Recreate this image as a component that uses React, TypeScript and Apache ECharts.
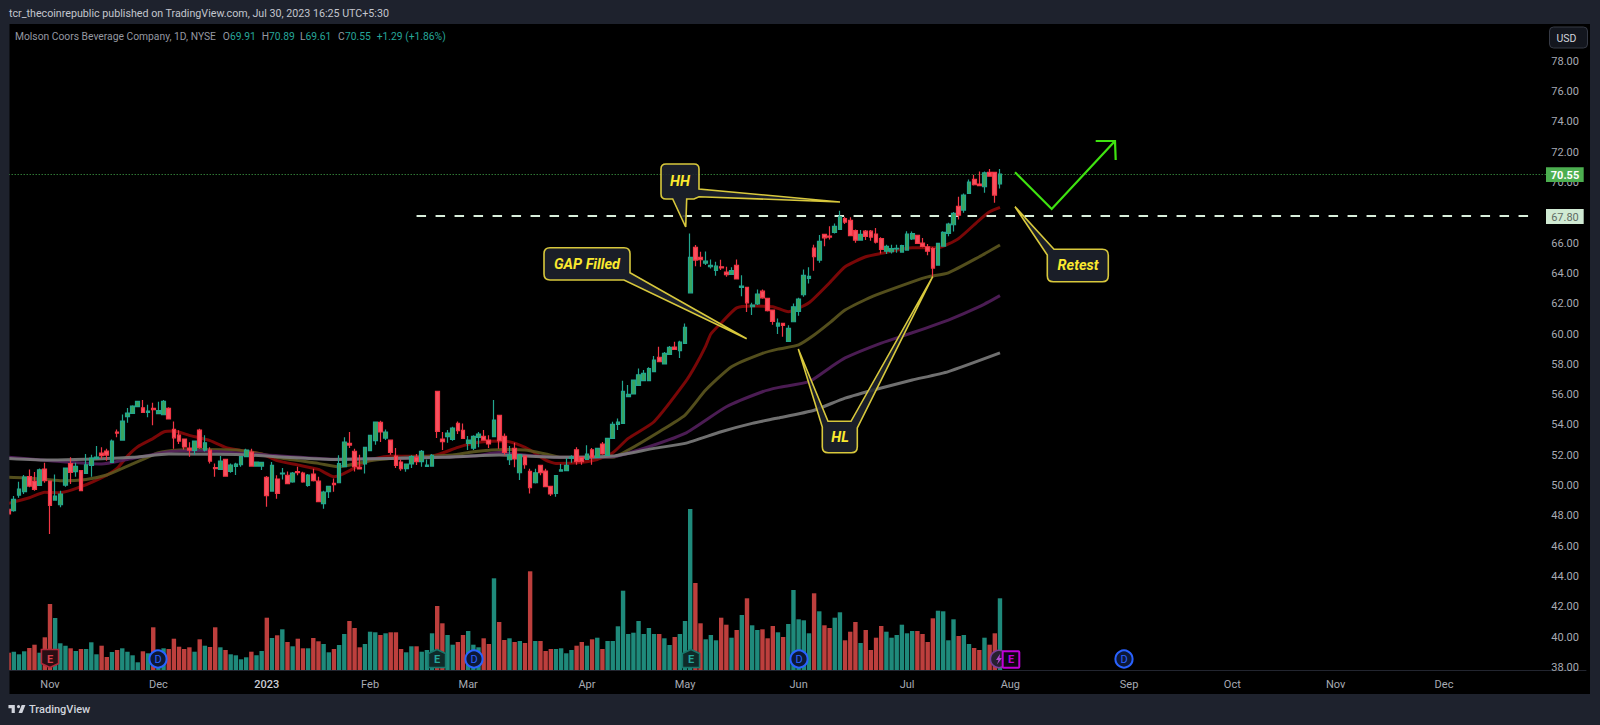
import React, { useEffect, useRef } from "react";
import * as echarts from "echarts";

const opens = [48.42,48.34,49.37,49.59,50.58,50.29,50.01,51.09,50.29,49.04,
48.73,50.03,51.44,50.91,50.98,50.80,51.33,51.79,52.14,52.27,
51.53,53.53,53.00,54.54,54.76,55.20,55.13,54.83,55.09,54.74,
54.67,55.09,53.70,53.33,53.07,52.47,52.32,53.66,52.34,52.34,
51.18,51.06,51.72,50.93,51.26,51.37,51.90,52.21,51.28,51.28,
50.54,49.63,50.43,50.76,50.67,50.23,50.91,50.82,50.01,50.76,
50.29,48.80,49.59,50.14,50.18,51.24,52.78,52.25,51.20,51.42,
52.30,52.96,54.17,53.13,53.00,51.94,51.55,51.11,51.42,51.86,
51.57,51.26,51.28,56.21,53.07,53.22,53.04,54.10,53.64,52.78,
52.47,53.18,53.24,53.00,53.22,54.63,53.24,51.70,52.45,50.84,
51.94,50.93,50.18,51.33,50.95,49.94,49.48,50.95,50.98,51.81,
52.36,51.86,51.72,52.36,51.86,52.74,51.99,53.11,54.03,54.10,
55.86,56.04,56.61,56.92,56.92,57.51,58.46,58.02,58.65,59.14,
58.90,59.38,62.72,65.72,65.06,64.68,64.44,64.20,64.44,64.09,
63.93,64.53,63.08,63.08,61.80,61.98,62.83,62.35,61.58,60.52,
60.70,59.51,60.81,61.49,62.59,63.67,65.67,64.88,66.57,66.46,
66.71,66.90,67.61,67.50,66.82,66.20,66.79,66.79,66.60,66.29,
65.47,65.43,65.61,65.41,65.54,66.27,66.51,66.00,65.76,65.63,
64.55,65.80,66.64,67.21,68.42,68.18,69.28,70.20,69.90,69.72,
70.67,70.67,69.91];

const closes = [48.12,49.08,49.77,50.56,49.96,49.74,51.04,50.32,48.69,49.30,
49.44,51.15,50.87,51.26,49.66,51.37,51.81,51.88,51.97,52.01,
52.93,53.46,54.25,54.78,55.24,55.55,54.83,54.91,55.00,54.94,
55.55,54.39,53.15,52.93,52.54,52.34,52.93,52.52,52.82,51.61,
51.11,51.61,50.62,51.35,51.42,51.90,52.34,51.28,51.55,51.53,
49.33,51.33,49.48,50.82,50.12,50.82,50.84,50.23,50.69,50.32,
48.93,49.57,49.94,50.05,51.44,52.87,52.67,51.24,51.09,52.52,
53.31,54.19,53.53,53.53,52.19,51.33,51.11,51.42,51.90,51.57,
52.25,51.35,51.99,53.57,52.89,53.46,53.79,53.62,53.11,53.00,
53.24,53.40,53.00,52.74,54.32,52.96,52.19,52.01,51.75,52.03,
51.37,49.85,50.84,50.84,49.92,49.44,50.65,51.04,51.33,51.88,
51.57,51.57,52.08,51.86,52.45,52.08,53.11,54.03,54.19,56.21,
56.01,56.96,57.31,57.40,57.71,58.28,58.17,58.72,59.12,58.98,
59.47,60.44,65.06,64.88,64.90,64.81,64.53,64.48,64.37,63.91,
64.18,63.63,63.16,62.06,61.91,62.64,62.39,61.54,60.83,60.72,
60.57,60.37,61.80,62.31,63.87,63.80,65.10,66.11,66.35,66.40,
67.10,67.74,67.39,66.49,66.20,66.57,66.44,66.40,66.07,65.58,
65.78,65.63,65.65,65.83,66.60,66.62,65.98,65.78,65.47,64.35,
65.98,66.71,67.26,67.96,67.85,69.17,70.03,69.85,69.79,70.64,
70.42,69.17,70.55];

const lows = [47.95,48.27,49.19,49.44,49.88,49.66,49.96,50.18,46.80,49.00,
48.56,49.92,50.10,50.58,49.66,50.76,50.58,51.72,51.79,51.64,
51.50,53.18,53.00,54.14,54.76,55.16,54.83,54.50,53.97,54.72,
54.67,54.36,52.43,52.74,52.38,51.90,52.03,52.43,52.25,51.46,
50.58,51.02,50.62,50.84,50.69,51.24,51.86,51.26,51.24,51.02,
48.60,49.59,49.13,50.40,50.10,50.18,50.67,50.18,49.92,50.27,
48.91,48.47,49.17,49.59,50.18,51.20,52.47,50.93,51.06,50.80,
52.30,52.69,52.87,53.00,52.03,51.15,50.98,50.91,51.15,51.35,
51.24,51.24,51.24,53.13,52.34,52.82,52.96,53.40,53.09,52.34,
52.34,52.52,52.96,52.47,53.22,52.43,52.03,51.35,51.20,50.36,
51.11,49.48,50.14,50.67,49.88,49.30,49.26,50.93,50.98,51.50,
51.37,51.37,51.72,51.37,51.86,52.03,51.94,53.09,53.66,54.10,
55.82,56.02,56.61,56.92,56.92,57.49,58.15,58.02,58.63,58.94,
58.41,59.38,62.72,64.48,64.44,64.55,64.33,63.85,64.22,63.78,
63.91,63.60,62.50,61.45,61.25,61.91,62.33,61.49,60.61,60.00,
59.82,59.47,60.77,61.21,62.46,63.34,64.18,64.70,65.80,66.24,
66.64,66.90,67.26,66.46,66.02,66.16,66.20,66.16,65.98,65.32,
65.28,65.32,65.36,65.36,65.54,66.20,65.94,65.72,65.19,63.69,
64.51,65.80,66.46,66.77,67.56,68.00,69.24,69.81,69.76,69.32,
70.40,68.66,69.61];

const highs = [48.50,49.30,50.25,50.69,51.06,50.89,51.13,51.50,50.29,50.73,
49.66,51.15,51.86,51.50,51.02,52.08,52.03,52.60,52.52,52.43,
53.04,53.70,54.69,55.11,55.29,55.60,55.64,55.33,55.46,55.53,
55.64,55.16,54.23,53.64,53.07,52.85,52.96,53.75,53.31,52.52,
51.46,51.94,51.72,51.46,51.50,51.94,52.43,52.43,51.59,51.57,
50.62,51.55,50.67,51.15,50.93,50.89,51.24,50.91,50.76,51.11,
50.58,49.66,49.96,50.47,51.99,53.18,53.53,52.43,52.03,52.52,
53.35,54.21,54.28,53.70,53.00,52.47,51.72,51.46,51.99,52.08,
52.34,51.72,52.08,56.21,53.53,53.66,53.88,54.23,54.10,53.26,
53.31,53.53,53.66,53.31,55.64,54.63,53.44,52.60,52.82,52.08,
51.94,51.11,51.11,51.33,51.11,49.94,50.69,51.42,51.81,51.99,
52.52,51.90,52.65,52.47,52.45,52.87,53.11,54.21,54.43,56.92,
56.63,57.00,57.73,57.62,57.80,58.54,59.16,58.81,59.20,59.49,
59.56,60.70,66.64,65.87,65.43,65.45,64.92,64.77,64.90,64.44,
64.40,64.92,63.87,63.08,62.06,62.94,62.94,62.35,61.58,61.03,
60.74,60.57,62.02,62.39,64.26,64.40,65.89,66.53,66.57,67.12,
67.30,68.14,67.74,67.70,66.90,66.86,66.86,66.86,66.99,66.38,
65.89,65.89,65.89,65.89,66.79,66.77,66.53,66.33,65.94,65.72,
65.98,66.79,67.34,68.05,69.06,69.28,70.20,70.51,70.73,70.73,
70.89,70.71,70.89];

const volumes = [17.3,18.3,15.7,18.7,22,25.3,17.3,32.7,66,52,
26.7,24.3,21.7,19,21,21,27.7,15.7,24.3,13,
18,20,21.7,18.3,14.7,7.7,18.7,16.7,42.7,20,
21.7,21,31.3,23.3,21,22.7,18.3,30.7,24.3,23,
42.7,22.7,20,15.7,14.7,10.7,12.7,18.3,14.7,19,
52.3,32,34.7,40.7,28,23.7,31.3,21.7,21.7,32,
28.7,26,17.7,21,25,36,49,42,22.7,26,
38.3,37.7,35,36.7,37.7,37.7,21,17.7,23.7,23.7,
18.3,20,36.7,64,46.7,35,25.3,28,35,39,
25.3,22.7,31.7,26,91.7,48,30,31.7,28,29,
27,98.7,29,29,19,21,21,21.7,16.7,20,
24.3,28,24.3,30.7,32.3,21,29,29,43.7,79.3,
36,37.3,49,36,42,36,36,31.7,25,33,
36,49,161,87,46.7,30.7,35,29.7,52.3,45.3,
32.3,40,55,71.7,44.7,40,40.7,31.7,44,37.7,
33,46,80,50.7,49.7,36.7,76.7,58.7,44.7,42,
52.3,57.7,29.7,38.3,48,27,40,20,32.3,44,
38.3,32.3,35,45.3,36.7,39,39,36,28,51.7,
59.3,58.7,29.7,50.7,34,35,26,22,20,32.3,
25.3,36.7,71.7];

const ema20 = [[0,48.82],[4,49.19],[7,49.55],[10,49.52],[14,49.92],[19,50.69],[21,51.13],[23,51.94],[25,52.56],[28,53.11],[30,53.53],[32,53.59],[35,53.31],[39,52.96],[42,52.52],[45,52.32],[49,52.08],[52,51.64],[56,51.35],[60,51.06],[63,50.58],[65,50.80],[70,51.68],[74,51.94],[78,51.93],[82,51.94],[87,52.52],[91,52.85],[96,52.93],[99,52.67],[101,52.34],[104,51.68],[106,51.46],[110,51.50],[114,51.72],[117,52.16],[120,53.11],[125,54.21],[131,56.80],[133,57.90],[134.5,59.20],[136,60.00],[138,60.73],[141,61.72],[144,61.84],[148,61.80],[151,61.47],[155,62.06],[159,63.38],[162,64.44],[166,65.10],[169,65.32],[175,65.69],[180,65.69],[184,66.31],[188,67.52],[190,68.07],[192,68.36]];
const ema50 = [[0,50.54],[5,50.47],[10,50.32],[15,50.40],[19,50.69],[22,51.13],[26,51.72],[29,52.16],[33,52.34],[37,52.38],[44,52.34],[49,52.08],[53,51.79],[60,51.46],[64,51.24],[70,51.64],[77,51.86],[86,52.01],[90,52.23],[96,52.38],[100,52.34],[104,52.08],[107,51.86],[117,51.86],[120,52.34],[126,53.55],[131,54.65],[135,56.30],[140,57.84],[146,58.72],[149,59.00],[152.6,59.28],[155.8,59.93],[159,60.73],[162.3,61.58],[167.4,62.44],[175.2,63.44],[178.4,63.77],[182.3,64.04],[188,65.10],[192,65.87]];
const ema100 = [[0,51.86],[8,51.64],[18,51.42],[23,51.72],[31,52.23],[37,52.30],[50,52.01],[63,51.74],[75,51.80],[90,51.94],[95,52.17],[100,52.01],[107,51.86],[117,51.90],[122,52.34],[131,53.44],[139,55.20],[146,56.19],[149.4,56.46],[154.5,56.85],[159,57.76],[162.3,58.42],[168.7,59.40],[175.2,60.08],[182.3,60.92],[188,61.80],[192,62.53]];
const ema200 = [[0,51.79],[8,51.68],[24,51.86],[31,52.08],[44,52.05],[63,51.72],[84,51.86],[95,52.01],[107,51.86],[117,51.94],[125,52.45],[131,52.78],[138,53.55],[144,54.10],[149.4,54.45],[155.8,54.97],[162.3,55.77],[168.7,56.44],[175.2,56.96],[182.3,57.52],[192,58.75]];

const priceTicksMin = 38;
const priceTicksMax = 78;
const hiddenTick = 68;
const lastPrice = 70.55;
const levelPrice = 67.8;
const slotCount = 306;
const monthLabels: Record<number, string> = { 8: "Nov", 29: "Dec", 50: "2023", 70: "Feb", 89: "Mar", 112: "Apr", 131: "May", 153: "Jun", 174: "Jul", 194: "Aug", 217: "Sep", 237: "Oct", 257: "Nov", 278: "Dec" };
const headerText = "tcr_thecoinrepublic published on TradingView.com, Jul 30, 2023 16:25 UTC+5:30";
const symbolText = "Molson Coors Beverage Company, 1D, NYSE";

const FRAME = "#1e222d";
const FONT = "Roboto, 'Noto Sans', sans-serif";
const YELLOW = "#d8c83c";
const TEXTY = "#fbe92f";
const UP = "#3ba55d", UPB = "#22a68f", DOWN = "#f7525f", DOWNB = "#f23645";
const VOLUP = "#1f8a7b", VOLDOWN = "#bd3f3d";

const calloutHH = "M666,164 L694,164 Q699,164 699,169 L699,189 L840,202 L699,196.7 L694,199 L686.7,199 L685.7,227 L672.7,199 L666,199 Q661,199 661,194 L661,169 Q661,164 666,164 Z";
const calloutGap = "M550,247.7 L624,247.7 Q630,247.7 630,253.7 L630,272.7 L746.7,338.7 L624,280 L550,280 Q544,280 544,274 L544,253.7 Q544,247.7 550,247.7 Z";
const calloutHL = "M828,421.3 L851,421.3 L932.7,276.7 L857.3,428 L857.3,446.7 Q857.3,452.7 851.3,452.7 L828.3,452.7 Q822.3,452.7 822.3,446.7 L822.3,427 L798.3,349 Z";
const calloutRetest = "M1054,249.3 L1102.3,249.3 Q1108.3,249.3 1108.3,255.3 L1108.3,275.7 Q1108.3,281.7 1102.3,281.7 L1053.3,281.7 Q1047.3,281.7 1047.3,275.7 L1047.3,255 L1015,206.7 Z";
const tvLogo = "M14 6H2v6h6v9h6V6Zm14 15h-7l6-15h7l-6 15Zm-7-9a3 3 0 1 0 0-6 3 3 0 0 0 0 6Z";

echarts.graphic.registerShape("calloutHH", echarts.graphic.extendPath(calloutHH, {}));
echarts.graphic.registerShape("calloutGap", echarts.graphic.extendPath(calloutGap, {}));
echarts.graphic.registerShape("calloutHL", echarts.graphic.extendPath(calloutHL, {}));
echarts.graphic.registerShape("calloutRetest", echarts.graphic.extendPath(calloutRetest, {}));
echarts.graphic.registerShape("tvLogo", echarts.graphic.extendPath(tvLogo, {}));

function txt(text: string, x: number, y: number, fill: string, font: string, align = "left", z = 60) {
  return { type: "text", z, silent: true, style: { text, x, y, fill, font, textAlign: align, textVerticalAlign: "middle" } };
}
function callout(type: string, label: string, cx: number, cy: number) {
  return [
    { type, x: 0, y: 0, z: 50, silent: true, style: { fill: "rgba(30,34,45,0.88)", stroke: YELLOW, lineWidth: 1.6 } },
    txt(label, cx, cy, TEXTY, `italic bold 14.5px ${FONT}`, "center", 51),
  ];
}
function dividend(cx: number) {
  return [
    { type: "circle", z: 40, silent: true, shape: { cx, cy: 659, r: 8.6 }, style: { fill: "#0d1836", stroke: "#2962ff", lineWidth: 2 } },
    txt("D", cx, 659.5, "#2962ff", `11px ${FONT}`, "center", 41),
  ];
}
function earnings(cx: number, pts: number[][], fill: string, stroke: string, letter: string) {
  return [
    { type: "polygon", z: 40, silent: true, shape: { points: pts.map(([a, b]) => [cx + a, 658.5 + b]) }, style: { fill, stroke, lineWidth: 1.6 } },
    txt("E", cx, 659.5, letter, `bold 11px ${FONT}`, "center", 41),
  ];
}
const shield = [[-8.6, -9], [8.6, -9], [8.6, 5], [0, 9], [-8.6, 5]];
const house = [[0, -9], [8.6, -5], [8.6, 9], [-8.6, 9], [-8.6, -5]];
const TEAL = "#26a69a";

export default function App() {
  const ref = useRef<HTMLDivElement>(null);
  useEffect(() => {
    document.body.style.margin = "0";
    const chart = echarts.init(ref.current!, null, { renderer: "svg" });
    const cats = Array.from({ length: slotCount }, (_, i) => String(i));
    const candles = opens.map((o, i) => [o, closes[i], lows[i], highs[i]]);
    const vols = volumes.map((v, i) => ({ value: v, itemStyle: { color: closes[i] >= opens[i] ? VOLUP : VOLDOWN } }));
    const ma = (data: number[][], color: string, z: number) => ({
      type: "line", data, xAxisIndex: 0, yAxisIndex: 0, showSymbol: false, smooth: 0.18, silent: true, z,
      lineStyle: { color, width: 3, opacity: 0.88 },
    });
    const gridBox = { left: 6.1, width: slotCount * 5.163 };
    chart.setOption({
      animation: false,
      backgroundColor: FRAME,
      grid: [
        { ...gridBox, top: 61.3, height: 606 },
        { ...gridBox, top: 470, height: 200 },
      ],
      xAxis: [
        { type: "category", gridIndex: 0, data: cats, show: false, boundaryGap: true },
        {
          type: "category", gridIndex: 1, data: cats, boundaryGap: true,
          axisTick: { show: false },
          axisLine: { show: true, lineStyle: { color: "#22252f", width: 1 } },
          axisLabel: {
            show: true, margin: 9, color: "#a7aab3", fontSize: 11, fontFamily: FONT,
            interval: (i: number) => monthLabels[i] !== undefined,
            formatter: (_v: string, i: number) => monthLabels[i] === "2023" ? "{y|2023}" : monthLabels[i] ?? "",
            rich: { y: { color: "#c9ccd4", fontSize: 11, fontWeight: 500, fontFamily: FONT } },
          },
        },
      ],
      yAxis: [
        {
          type: "value", gridIndex: 0, position: "right", min: priceTicksMin, max: priceTicksMax, interval: 2,
          splitLine: { show: false }, axisLine: { show: false }, axisTick: { show: false },
          axisLabel: { inside: true, margin: 7, color: "#a7aab3", fontSize: 11, fontFamily: FONT, formatter: (v: number) => v === hiddenTick ? "" : v.toFixed(2) },
        },
        { type: "value", gridIndex: 1, min: 0, max: 200, show: false },
      ],
      series: [
        { type: "bar", data: vols, xAxisIndex: 1, yAxisIndex: 1, barWidth: 4.4, silent: true, z: 2 },
        ma(ema20, "#8a0808", 3),
        ma(ema50, "#5f5920", 3),
        ma(ema100, "#55205f", 3),
        ma(ema200, "#808080", 3),
        {
          type: "candlestick", data: candles, xAxisIndex: 0, yAxisIndex: 0, barWidth: 4.2, silent: true, z: 5,
          itemStyle: { color: UP, color0: DOWN, borderColor: UPB, borderColor0: DOWNB, borderWidth: 1.2 },
          markLine: {
            silent: true, symbol: "none", animation: false, label: { show: false },
            data: [
              [
                { coord: [0, lastPrice], lineStyle: { color: "#46b04e", width: 1, type: [1, 2] } },
                { coord: [298, lastPrice] },
              ],
              [
                { coord: [79, levelPrice], lineStyle: { color: "#d9eedb", width: 2, type: [9.5, 9.5] } },
                { coord: [296, levelPrice] },
              ],
            ],
          },
        },
      ],
      graphic: {
        elements: [
          { type: "rect", z: 0, silent: true, shape: { x: 9.3, y: 24, width: 1580.7, height: 670 }, style: { fill: "#000" } },
          { type: "rect", z: 90, silent: true, shape: { x: 0, y: 24, width: 9.3, height: 670 }, style: { fill: FRAME } },
          txt(headerText, 9, 13, "#c3c6ce", `10.7px ${FONT}`),
          txt(symbolText, 15, 36, "#9598a1", `10.3px ${FONT}`),
          txt("O", 222.7, 36, "#9598a1", `10.3px ${FONT}`),
          txt("69.91", 230, 36, TEAL, `10.3px ${FONT}`),
          txt("H", 261.7, 36, "#9598a1", `10.3px ${FONT}`),
          txt("70.89", 269, 36, TEAL, `10.3px ${FONT}`),
          txt("L", 300, 36, "#9598a1", `10.3px ${FONT}`),
          txt("69.61", 305.5, 36, TEAL, `10.3px ${FONT}`),
          txt("C", 338, 36, "#9598a1", `10.3px ${FONT}`),
          txt("70.55", 345, 36, TEAL, `10.3px ${FONT}`),
          txt("+1.29 (+1.86%)", 376.7, 36, TEAL, `10.3px ${FONT}`),
          { type: "rect", z: 60, silent: true, shape: { x: 1549.5, y: 27, width: 38, height: 21, r: 4 }, style: { fill: "#13161e", stroke: "#363a45", lineWidth: 1 } },
          txt("USD", 1566.5, 38, "#d1d4dc", `10.5px ${FONT}`, "center", 61),
          { type: "rect", z: 60, silent: true, shape: { x: 1546, y: 167.3, width: 37.7, height: 14.7 }, style: { fill: "#4caf50" } },
          txt("70.55", 1565, 175, "#ffffff", `bold 11px ${FONT}`, "center", 61),
          { type: "rect", z: 60, silent: true, shape: { x: 1546, y: 209, width: 37.7, height: 15 }, style: { fill: "#d0ead3" } },
          txt("67.80", 1565, 217, "#5f6b63", `11px ${FONT}`, "center", 61),
          ...callout("calloutHH", "HH", 680, 181),
          ...callout("calloutGap", "GAP Filled", 587, 264),
          ...callout("calloutHL", "HL", 840, 437),
          ...callout("calloutRetest", "Retest", 1078, 265.7),
          { type: "polyline", z: 52, silent: true, shape: { points: [[1015, 172.3], [1051.7, 209], [1115, 141]] }, style: { stroke: "#3fe310", lineWidth: 2.2, fill: "none" } },
          { type: "polyline", z: 52, silent: true, shape: { points: [[1095.7, 141], [1115, 141], [1115.7, 160]] }, style: { stroke: "#3fe310", lineWidth: 2.2, fill: "none" } },
          ...earnings(50, shield, "#2a0e13", "#b2283a", "#d8404c"),
          ...earnings(437, house, "#0f2a29", "#17766b", TEAL),
          ...earnings(691, house, "#0f2a29", "#17766b", TEAL),
          ...dividend(158),
          ...dividend(474),
          ...dividend(799),
          ...dividend(1124),
          { type: "circle", z: 40, silent: true, shape: { cx: 999, cy: 659, r: 8.6 }, style: { fill: "#262030", stroke: "#7b3f9a", lineWidth: 1.6 } },
          { type: "polygon", z: 41, silent: true, shape: { points: [[1000, 654], [996, 660], [998.5, 660], [997, 664.5], [1002, 658], [999.5, 658]] }, style: { fill: "#b04ad0" } },
          { type: "rect", z: 42, silent: true, shape: { x: 1002.7, y: 651.3, width: 16.6, height: 16.4, r: 1 }, style: { fill: "#0c0510", stroke: "#c000d8", lineWidth: 2 } },
          txt("E", 1011, 659.8, "#c000d8", `bold 11px ${FONT}`, "center", 43),
          { type: "tvLogo", x: 7.4, y: 701.8, scaleX: 0.53, scaleY: 0.53, z: 60, silent: true, style: { fill: "#d1d4dc" } },
          txt("TradingView", 29, 709.5, "#d1d4dc", `500 11px ${FONT}`),
        ],
      },
    });
    return () => chart.dispose();
  }, []);
  return <div ref={ref} style={{ position: "fixed", left: 0, top: 0, width: 1600, height: 725 }} />;
}
